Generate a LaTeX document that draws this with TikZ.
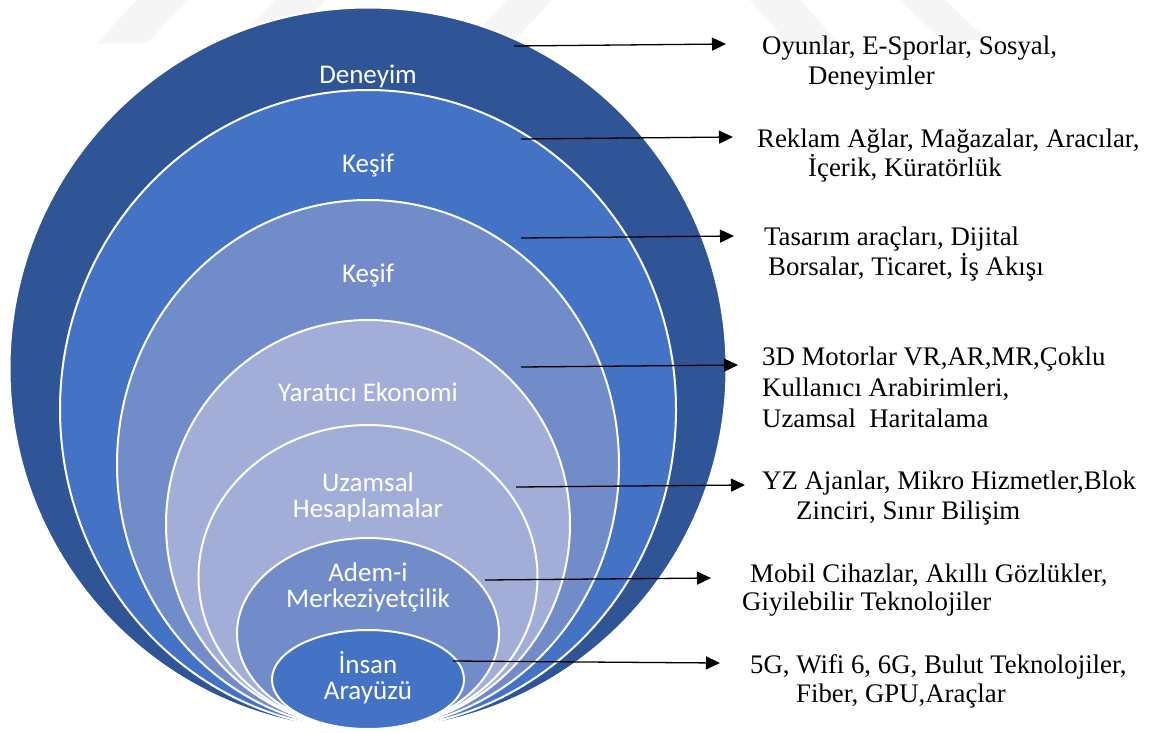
\documentclass[tikz,border=0pt]{standalone}
\usepackage{fontspec}
\setmainfont{Liberation Serif}
\newfontfamily\labfont{Carlito}
\usetikzlibrary{arrows.meta}
\definecolor{cA}{RGB}{47,85,151}
\definecolor{cB}{RGB}{68,114,196}
\definecolor{cC}{RGB}{114,140,201}
\definecolor{cD}{RGB}{163,174,216}
\definecolor{wm}{RGB}{245,245,245}
\tikzset{
  ring/.style={fill=#1, draw=white, line width=2pt},
  lab/.style={anchor=base, inner sep=0pt, text=white, font=\labfont\fontsize{27}{30}\selectfont},
  rtxt/.style={anchor=base west, inner sep=0pt, text=black, font=\fontsize{26.8}{30}\selectfont},
  arr/.style={draw=black, line width=1.3pt, -{Triangle[length=14pt,width=13pt]}},
  wmark/.style={fill=wm, draw=none}
}
\begin{document}
\begin{tikzpicture}[x=1pt,y=-1pt]
\useasboundingbox (0,0) rectangle (1152,732);
\fill[white] (0,0) rectangle (1152,732);
% watermark stripes
\fill[wmark] (97,43) -- (147,43) -- (187,0) -- (137,0) -- cycle;
\fill[wmark] (235,43) -- (285,43) -- (325,0) -- (275,0) -- cycle;
\fill[wmark] (470,40) -- (515,40) -- (552,0) -- (507,0) -- cycle;
\fill[wmark] (750,0) -- (800,0) -- (840,45) -- (790,45) -- cycle;
\fill[wmark] (900,0) -- (945,0) -- (987,40) -- (942,40) -- cycle;
% nested ellipses
\draw[ring=cA] (368,368.5) ellipse [x radius=358.5pt, y radius=361pt];
\draw[ring=cB] (368,409.5) ellipse [x radius=308pt, y radius=319.5pt];
\draw[ring=cC] (368,464.5) ellipse [x radius=251pt, y radius=264.5pt];
\draw[ring=cD] (368,524.5) ellipse [x radius=202pt, y radius=204.5pt];
\draw[ring=cD] (368,577) ellipse [x radius=169.5pt, y radius=152pt];
\draw[ring=cC] (368,633.5) ellipse [x radius=131pt, y radius=95.5pt];
\draw[ring=cB] (368,679.5) ellipse [x radius=96pt, y radius=49.5pt];
% labels
\node[lab] (l1) at (368,83) {Deneyim};
\node[lab] (l2) at (368,172) {Keşif};
\node[lab] (l3) at (368,282) {Keşif};
\node[lab] (l4) at (368,401) {Yaratıcı Ekonomi};
\node[lab] (l5a) at (368,491) {Uzamsal};
\node[lab] (l5b) at (368,517) {Hesaplamalar};
\node[lab] (l6a) at (368,581) {Adem-i};
\node[lab] (l6b) at (368,607) {Merkeziyetçilik};
\node[lab] (l7a) at (368,673) {İnsan};
\node[lab] (l7b) at (368,699) {Arayüzü};
% right texts
\node[rtxt] (t1a) at (762,54) {Oyunlar, E-Sporlar, Sosyal,};
\node[rtxt] (t1b) at (808,84) {Deneyimler};
\node[rtxt] (t2a) at (757,147) {Reklam Ağlar, Mağazalar, Aracılar,};
\node[rtxt] (t2b) at (808,176) {İçerik, Küratörlük};
\node[rtxt] (t3a) at (764,245) {Tasarım araçları, Dijital};
\node[rtxt] (t3b) at (768,275) {Borsalar, Ticaret, İş Akışı};
\node[rtxt] (t4a) at (762,365) {3D Motorlar VR,AR,MR,Çoklu};
\node[rtxt] (t4b) at (762,396) {Kullanıcı Arabirimleri,};
\node[rtxt] (t4c) at (762,427) {Uzamsal\ \ Haritalama};
\node[rtxt] (t5a) at (762,489) {YZ Ajanlar, Mikro Hizmetler,Blok};
\node[rtxt] (t5b) at (796,519) {Zinciri, Sınır Bilişim};
\node[rtxt] (t6a) at (750,582) {Mobil Cihazlar, Akıllı Gözlükler,};
\node[rtxt] (t6b) at (742,610) {Giyilebilir Teknolojiler};
\node[rtxt] (t7a) at (750,673) {5G, Wifi 6, 6G, Bulut Teknolojiler,};
\node[rtxt] (t7b) at (796,702) {Fiber, GPU,Araçlar};
% arrow endpoints
\coordinate (a1s) at (514,46);  \coordinate (a1e) at (726,44);
\coordinate (a2s) at (521,139); \coordinate (a2e) at (733,137);
\coordinate (a3s) at (521,238); \coordinate (a3e) at (734,236);
\coordinate (a4s) at (521,367); \coordinate (a4e) at (738,365);
\coordinate (a5s) at (516,487); \coordinate (a5e) at (745,485);
\coordinate (a6s) at (485,580); \coordinate (a6e) at (711,578);
\coordinate (a7s) at (453,661); \coordinate (a7e) at (720,663);
\draw[arr] (a1s) -- (a1e);
\draw[arr] (a2s) -- (a2e);
\draw[arr] (a3s) -- (a3e);
\draw[arr] (a4s) -- (a4e);
\draw[arr] (a5s) -- (a5e);
\draw[arr] (a6s) -- (a6e);
\draw[arr] (a7s) -- (a7e);
\end{tikzpicture}
\end{document}
